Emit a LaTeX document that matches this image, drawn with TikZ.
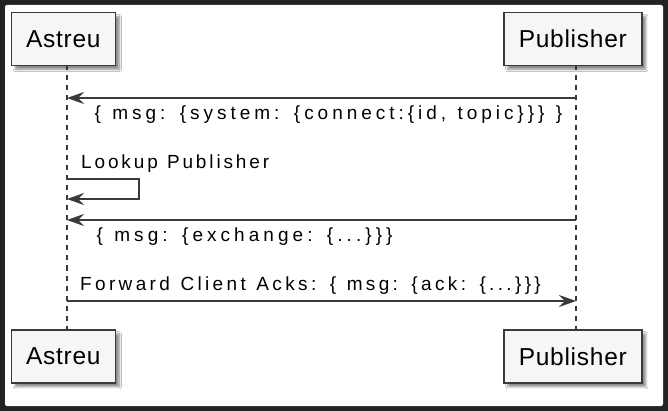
\documentclass[tikz,border=0pt]{standalone}
\usepackage{fontspec}
\setmainfont{Liberation Sans}
\newfontfamily\partfont{Liberation Sans}[LetterSpace=3]
\newfontfamily\lblfont{Liberation Sans}
\newcommand\fitspace[1]{\spaceskip=\dimexpr\fontdimen2\font+#1\relax}
\usetikzlibrary{arrows.meta,shadows.blur}
\definecolor{frame}{HTML}{222222}
\definecolor{ink}{HTML}{3A3A3A}
\definecolor{boxfill}{HTML}{F6F6F6}
\tikzset{
  part/.style={draw=ink, line width=1.6pt, fill=boxfill, minimum height=53pt,
    inner sep=0pt, font=\partfont\fontsize{24.5}{28}\selectfont,
    blur shadow={shadow xshift=4pt, shadow yshift=-4pt, shadow blur steps=6, shadow opacity=45}},
  life/.style={draw=ink, line width=1.4pt, dash pattern=on 5pt off 5pt},
  msg/.style={draw=ink, line width=1.4pt, -{Stealth[length=17pt, width=12pt, inset=6pt]}},
  lbl/.style={anchor=base west, inner sep=0pt, font=\lblfont\fontsize{19}{23}\selectfont}
}
\begin{document}
\begin{tikzpicture}[x=1pt,y=-1pt]
\fill[frame] (0,0) rectangle (668,411);
\fill[white, rounded corners=2pt] (5,5) rectangle (663,406);
\useasboundingbox (0,0) rectangle (668,411);
% participants
\node[part, minimum width=104pt] (at) at (63.3,39) {Astreu};
\node[part, minimum width=138pt] (pt) at (572.8,39) {Publisher};
\node[part, minimum width=104pt] (ab) at (63.3,356.3) {Astreu};
\node[part, minimum width=138pt] (pb) at (572.8,356.3) {Publisher};
% lifelines
\coordinate (a0) at (67,65.5);
\coordinate (a1) at (67,330);
\coordinate (p0) at (576,65.5);
\coordinate (p1) at (576,330);
\draw[life] (a0) -- (a1);
\draw[life] (p0) -- (p1);
% message 1
\coordinate (m1p) at (576,98);
\coordinate (m1a) at (67,98);
\draw[msg] (m1p) -- (m1a);
\node[lbl] (l1) at (94.5,119.5) {\addfontfeatures{LetterSpace=20.9}\fitspace{2.1pt}\{ msg: \{system: \{connect:\{id, topic\}\}\} \}};
% self
\node[lbl] (l2) at (81,168.5) {\addfontfeatures{LetterSpace=15.1}\fitspace{1pt}Lookup Publisher};
\coordinate (s0) at (67,179);
\coordinate (s1) at (139,179);
\coordinate (s2) at (139,199);
\coordinate (s3) at (67,199);
\draw[msg] (s0) -- (s1) -- (s2) -- (s3);
% message 2
\coordinate (m2p) at (576,220);
\coordinate (m2a) at (67,220);
\draw[msg] (m2p) -- (m2a);
\node[lbl] (l3) at (96.5,242) {\addfontfeatures{LetterSpace=21.3}\fitspace{2pt}\{ msg: \{exchange: \{...\}\}\}};
% message 3
\node[lbl] (l4) at (80,290) {\addfontfeatures{LetterSpace=17.6}\fitspace{2pt}Forward Client Acks: \{ msg: \{ack: \{...\}\}\}};
\coordinate (m3a) at (67,301);
\coordinate (m3p) at (576,301);
\draw[msg] (m3a) -- (m3p);
\end{tikzpicture}
\end{document}
